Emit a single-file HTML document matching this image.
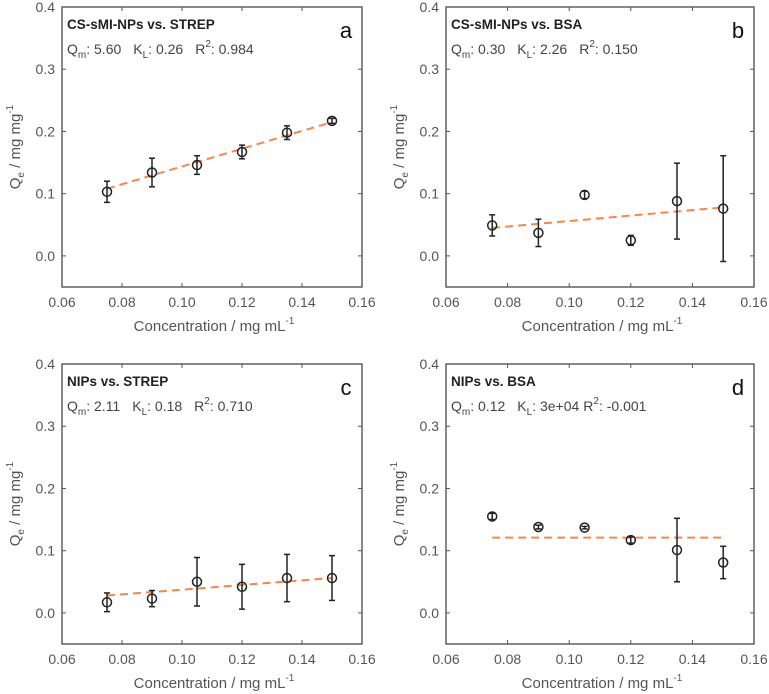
<!DOCTYPE html>
<html><head><meta charset="utf-8">
<style>
body{margin:0;background:#fff;}
svg{display:block;font-family:"Liberation Sans",sans-serif;}
</style></head>
<body>
<svg id="fig" width="769" height="694"></svg>
<script>
const xValues=[0.075,0.09,0.105,0.12,0.135,0.15];
const xTicks=[0.06,0.08,0.10,0.12,0.14,0.16];
const xTickLabels=["0.06","0.08","0.10","0.12","0.14","0.16"];
const yTicks=[0.0,0.1,0.2,0.3,0.4];
const yTickLabels=["0.0","0.1","0.2","0.3","0.4"];
const aMeans=[0.103,0.134,0.146,0.167,0.198,0.217];
const aErrs=[0.017,0.023,0.015,0.011,0.011,0.004];
const aFit=[0.108,0.215];
const bMeans=[0.049,0.037,0.098,0.025,0.088,0.076];
const bErrs=[0.017,0.022,0.006,0.008,0.061,0.085];
const bFit=[0.045,0.078];
const cMeans=[0.017,0.023,0.050,0.042,0.056,0.056];
const cErrs=[0.015,0.013,0.039,0.036,0.038,0.036];
const cFit=[0.028,0.056];
const dMeans=[0.155,0.138,0.137,0.117,0.101,0.081];
const dErrs=[0.005,0.003,0.002,0.005,0.051,0.026];
const dFit=[0.121,0.121];

const NS="http://www.w3.org/2000/svg";
const svg=document.getElementById('fig');
function mk(tag,attrs,parent){const e=document.createElementNS(NS,tag);for(const k in attrs)e.setAttribute(k,attrs[k]);(parent||svg).appendChild(e);return e;}

const panels=[
 {id:'a',box:[62,7,362,287],title:'CS-sMI-NPs vs. STREP',qm:'5.60',kl:'0.26',r2:'0.984',m:aMeans,e:aErrs,f:aFit},
 {id:'b',box:[446,7,754,287],title:'CS-sMI-NPs vs. BSA',qm:'0.30',kl:'2.26',r2:'0.150',m:bMeans,e:bErrs,f:bFit},
 {id:'c',box:[62,364,362,644],title:'NIPs vs. STREP',qm:'2.11',kl:'0.18',r2:'0.710',m:cMeans,e:cErrs,f:cFit},
 {id:'d',box:[446,364,754,644],title:'NIPs vs. BSA',qm:'0.12',kl:'3e+04',r2:'-0.001',m:dMeans,e:dErrs,f:dFit}
];
panels.forEach(p=>{
 const [x0,y0,x1,y1]=p.box;
 const sx=v=>x0+(v-0.06)/(0.10)*(x1-x0);
 const sy=v=>y1-(v+0.05)/0.45*(y1-y0);
 const g=mk('g',{});
 
 
 const r=mk('rect',{x:x0,y:y0,width:x1-x0,height:y1-y0,fill:'none',stroke:'#555','stroke-width':1.4},g);
 
 
 xTicks.forEach((t,i)=>{
  const x=sx(t);
  mk('line',{x1:x,x2:x,y1:y1,y2:y1-4,stroke:'#555'},g);
  mk('line',{x1:x,x2:x,y1:y0,y2:y0+4,stroke:'#555'},g);
  const tx=mk('text',{x:x,y:y1+20,'text-anchor':'middle','font-size':14,fill:'#555'},g);
  tx.textContent=xTickLabels[i];
  
  
 });
 yTicks.forEach((t,i)=>{
  const y=sy(t);
  mk('line',{x1:x0,x2:x0+4,y1:y,y2:y,stroke:'#555'},g);
  mk('line',{x1:x1,x2:x1-4,y1:y,y2:y,stroke:'#555'},g);
  const tx=mk('text',{x:x0-7,y:y+5,'text-anchor':'end','font-size':14,fill:'#555'},g);
  tx.textContent=yTickLabels[i];
  
  
 });
 const xl=mk('text',{x:(x0+x1)/2+2,y:y1+44,'text-anchor':'middle','font-size':15,fill:'#555'},g);
 xl.innerHTML='Concentration / mg mL<tspan dy="-7" font-size="10">-1</tspan>';
 
 
 const yc=(y0+y1)/2;
 const yl=mk('text',{x:0,y:0,transform:`translate(${x0-42},${yc}) rotate(-90)`,'text-anchor':'middle','font-size':15,fill:'#555'},g);
 yl.innerHTML='Q<tspan dy="4" font-size="10">e</tspan><tspan dy="-4"> / mg mg</tspan><tspan dy="-7" font-size="10">-1</tspan>';
 
 
 const tt=mk('text',{x:x0+5,y:y0+22,'font-size':13.5,'font-weight':'bold',fill:'#222'},g);
 tt.textContent=p.title;
 
 
 const st=mk('text',{x:x0+5,y:y0+47,'font-size':14,fill:'#444'},g);
 st.innerHTML=`Q<tspan dy="4" font-size="10">m</tspan><tspan dy="-4">: ${p.qm}</tspan><tspan dx="12">K</tspan><tspan dy="4" font-size="10">L</tspan><tspan dy="-4">: ${p.kl}</tspan><tspan dx="${p.id==='d'?4:12}">R</tspan><tspan dy="-7" font-size="10">2</tspan><tspan dy="7">: ${p.r2}</tspan>`;
 
 
 const lt=mk('text',{x:x1-16,y:y0+31,'font-size':22,fill:'#111','text-anchor':'middle'},g);
 lt.textContent=p.id;
 
 
 const fl=mk('line',{x1:sx(xValues[0]),x2:sx(xValues[xValues.length-1]),y1:sy(p.f[0]),y2:sy(p.f[1]),stroke:'#f4874b','stroke-width':2,'stroke-dasharray':'8,5'},g);
 
 
 xValues.forEach((xv,i)=>{
  const x=sx(xv),m=p.m[i],e=p.e[i];
  const eg=mk('g',{stroke:'#222','stroke-width':1.5,fill:'none'},g);
  
  
  mk('line',{x1:x,x2:x,y1:sy(m-e),y2:sy(m+e)},eg);
  mk('line',{x1:x-3,x2:x+3,y1:sy(m-e),y2:sy(m-e)},eg);
  mk('line',{x1:x-3,x2:x+3,y1:sy(m+e),y2:sy(m+e)},eg);
  mk('circle',{cx:x,cy:sy(m),r:4.5},eg);
 });
});
</script>
</body></html>
